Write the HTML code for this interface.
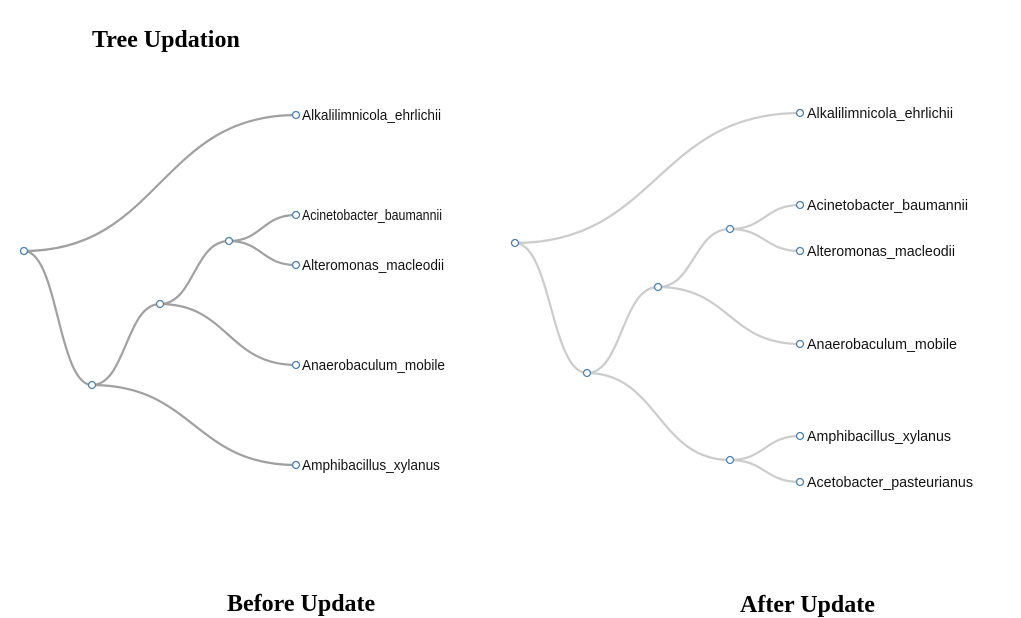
<!DOCTYPE html>
<html><head><meta charset="utf-8"><style>
body{margin:0;background:#fff;width:1021px;height:618px;overflow:hidden}
svg{display:block}
.t{font-family:"Liberation Sans",Arial,sans-serif;font-size:15px;fill:#111}
.h{font-family:"Liberation Serif",serif;font-size:24px;font-weight:bold;fill:#000}
.l path{fill:none;stroke:#a0a0a0;stroke-width:2.2}
.r path{fill:none;stroke:#cccccc;stroke-width:2.2}
circle{fill:#fff;stroke:#4682b4;stroke-width:1.3}
</style></head><body>
<svg width="1021" height="618" viewBox="0 0 1021 618">
<text class="h" x="92" y="47">Tree Updation</text>
<text class="h" x="227" y="611">Before Update</text>
<text class="h" x="740" y="612">After Update</text>
<g class="l">
<path d="M24,251 C160,251 160,115 296,115"/>
<path d="M24,251 C58,251 58,385 92,385"/>
<path d="M92,385 C126,385 126,304 160,304"/>
<path d="M92,385 C194,385 194,465 296,465"/>
<path d="M160,304 C194,304 194,241 229,241"/>
<path d="M160,304 C228,304 228,365 296,365"/>
<path d="M229,241 C262,241 262,215 296,215"/>
<path d="M229,241 C262,241 262,265 296,265"/>
</g>
<g class="r">
<path d="M515,243 C657,243 657,113 800,113"/>
<path d="M515,243 C551,243 551,373 587,373"/>
<path d="M587,373 C622,373 622,287 658,287"/>
<path d="M587,373 C658,373 658,460 730,460"/>
<path d="M658,287 C694,287 694,229 730,229"/>
<path d="M658,287 C729,287 729,344 800,344"/>
<path d="M730,229 C765,229 765,205 800,205"/>
<path d="M730,229 C765,229 765,251 800,251"/>
<path d="M730,460 C765,460 765,436 800,436"/>
<path d="M730,460 C765,460 765,482 800,482"/>
</g>
<g>
<circle cx="24" cy="251" r="3.5"/><circle cx="92" cy="385" r="3.5"/><circle cx="160" cy="304" r="3.5"/><circle cx="229" cy="241" r="3.5"/>
<circle cx="296" cy="115" r="3.5"/><circle cx="296" cy="215" r="3.5"/><circle cx="296" cy="265" r="3.5"/><circle cx="296" cy="365" r="3.5"/><circle cx="296" cy="465" r="3.5"/>
<circle cx="515" cy="243" r="3.5"/><circle cx="587" cy="373" r="3.5"/><circle cx="658" cy="287" r="3.5"/><circle cx="730" cy="229" r="3.5"/><circle cx="730" cy="460" r="3.5"/>
<circle cx="800" cy="113" r="3.5"/><circle cx="800" cy="205" r="3.5"/><circle cx="800" cy="251" r="3.5"/><circle cx="800" cy="344" r="3.5"/><circle cx="800" cy="436" r="3.5"/><circle cx="800" cy="482" r="3.5"/>
</g>
<g class="t">
<text x="302" y="120" textLength="139" lengthAdjust="spacingAndGlyphs">Alkalilimnicola_ehrlichii</text>
<text x="302" y="220" textLength="140" lengthAdjust="spacingAndGlyphs">Acinetobacter_baumannii</text>
<text x="302" y="270" textLength="142" lengthAdjust="spacingAndGlyphs">Alteromonas_macleodii</text>
<text x="302" y="370" textLength="143" lengthAdjust="spacingAndGlyphs">Anaerobaculum_mobile</text>
<text x="302" y="470" textLength="138" lengthAdjust="spacingAndGlyphs">Amphibacillus_xylanus</text>
<text x="807" y="118" textLength="146" lengthAdjust="spacingAndGlyphs">Alkalilimnicola_ehrlichii</text>
<text x="807" y="210" textLength="161" lengthAdjust="spacingAndGlyphs">Acinetobacter_baumannii</text>
<text x="807" y="256" textLength="148" lengthAdjust="spacingAndGlyphs">Alteromonas_macleodii</text>
<text x="807" y="349" textLength="150" lengthAdjust="spacingAndGlyphs">Anaerobaculum_mobile</text>
<text x="807" y="441" textLength="144" lengthAdjust="spacingAndGlyphs">Amphibacillus_xylanus</text>
<text x="807" y="487" textLength="166" lengthAdjust="spacingAndGlyphs">Acetobacter_pasteurianus</text>
</g>
</svg>
</body></html>
